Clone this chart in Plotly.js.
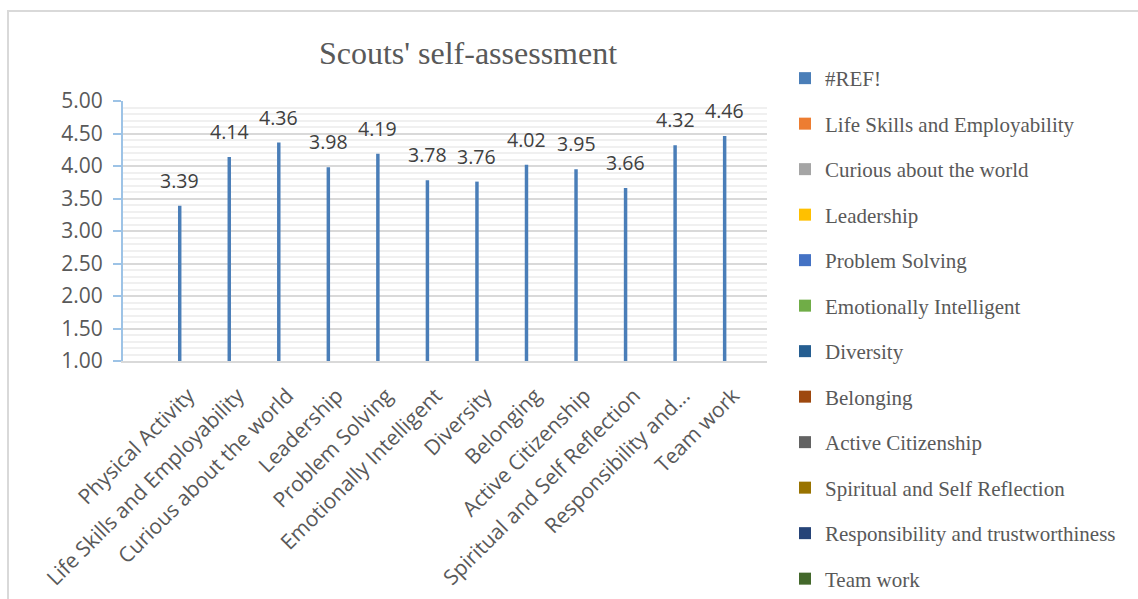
<!DOCTYPE html>
<html>
<head>
<meta charset="utf-8">
<script src="https://cdn.plot.ly/plotly-3.0.1.min.js"></script>
<style>html,body{margin:0;padding:0;background:#fff;}#chart{width:1138px;height:599px;}</style>
</head>
<body>
<div id="chart"></div>
<script>
// ---- data ----
var categories = ["Physical Activity", "Life Skills and Employability", "Curious about the world",
  "Leadership", "Problem Solving", "Emotionally Intelligent", "Diversity", "Belonging",
  "Active Citizenship", "Spiritual and Self Reflection", "Responsibility and...", "Team work"];
var scores = [3.39, 4.14, 4.36, 3.98, 4.19, 3.78, 3.76, 4.02, 3.95, 3.66, 4.32, 4.46];
var legendNames = ["#REF!", "Life Skills and Employability", "Curious about the world", "Leadership",
  "Problem Solving", "Emotionally Intelligent", "Diversity", "Belonging", "Active Citizenship",
  "Spiritual and Self Reflection", "Responsibility and trustworthiness", "Team work"];
var legendColors = ["#4a7eb8", "#ed7d31", "#a5a5a5", "#ffc000", "#4472c4", "#70ad47",
  "#255e91", "#9e480e", "#636363", "#997300", "#264478", "#43682b"];
var emptySeries = [0]; // the other series hold no visible value
var yTicks = [1.0, 1.5, 2.0, 2.5, 3.0, 3.5, 4.0, 4.5, 5.0];

// ---- styling ----
var barOffset = -0.39, barWidth = 0.07;
var idx = categories.map(function (_, i) { return i; });

var traces = [];
legendNames.forEach(function (name, k) {
  if (k === 0) {
    traces.push({
      type: 'bar', name: name, x: idx, y: scores,
      offset: barOffset, width: barWidth,
      marker: {color: legendColors[k]}, legendgroup: 'g' + k,
      hoverinfo: 'x+y'
    });
  } else {
    traces.push({
      type: 'bar', name: name, x: [idx[0]], y: emptySeries,
      offset: barOffset, width: barWidth,
      marker: {color: legendColors[k]}, legendgroup: 'g' + k
    });
  }
});

var annotations = scores.map(function (v, i) {
  return {
    x: i + barOffset + barWidth / 2, y: v, xref: 'x', yref: 'y',
    text: v.toFixed(2), showarrow: false, yanchor: 'bottom', yshift: 10,
    font: {family: 'Open Sans, sans-serif', size: 19.5, color: '#404040'}
  };
});

var layout = {
  width: 1138, height: 599,
  margin: {l: 123, r: 371, t: 101, b: 238},
  paper_bgcolor: '#ffffff', plot_bgcolor: '#ffffff',
  barmode: 'overlay',
  title: {
    text: "Scouts' self-assessment",
    font: {family: 'Liberation Serif, Times New Roman, serif', size: 32, color: '#595959'},
    xref: 'container', yref: 'container', x: 468 / 1138, xanchor: 'center',
    y: 1 - 53 / 599, yanchor: 'middle'
  },
  xaxis: {
    range: [-1.5, 11.5], tickmode: 'array', tickvals: idx, ticktext: categories,
    tickangle: -45, showgrid: false, zeroline: false,
    showline: true, linecolor: '#d9d9d9', linewidth: 2, ticks: '',
    ticklabelstandoff: 12, ticklabelshift: -9,
    tickfont: {family: 'Open Sans, sans-serif', size: 21, color: '#595959'}
  },
  yaxis: {
    range: [1, 5], tickmode: 'array', tickvals: yTicks, tickformat: '.2f',
    showgrid: true, gridcolor: '#d9d9d9', gridwidth: 2, zeroline: false,
    showline: true, linecolor: '#9dc3e6', linewidth: 2,
    ticks: 'outside', ticklen: 8, tickcolor: '#9dc3e6', tickwidth: 2,
    ticklabelstandoff: 6,
    minor: {dtick: 0.1, showgrid: true, gridcolor: '#f0f0f0', gridwidth: 2, ticks: ''},
    tickfont: {family: 'Open Sans, sans-serif', size: 21, color: '#595959'}
  },
  showlegend: true,
  legend: {
    x: (785 - 123) / 644, xanchor: 'left', y: (361 - 64.5) / 260, yanchor: 'top',
    tracegroupgap: 15.2, traceorder: 'grouped', itemwidth: 30, maxheight: 580,
    font: {family: 'Liberation Serif, Times New Roman, serif', size: 21, color: '#595959'},
    bgcolor: 'rgba(0,0,0,0)'
  },
  annotations: annotations,
  shapes: [{
    type: 'rect', xref: 'paper', yref: 'paper',
    x0: (8 - 123) / 644, x1: (1170 - 123) / 644,
    y0: (361 - 630) / 260, y1: (361 - 11) / 260,
    line: {color: '#d9d9d9', width: 2}, fillcolor: 'rgba(0,0,0,0)', layer: 'below'
  }]
};

Plotly.newPlot('chart', traces, layout, {displayModeBar: false, staticPlot: true});
</script>
</body>
</html>
